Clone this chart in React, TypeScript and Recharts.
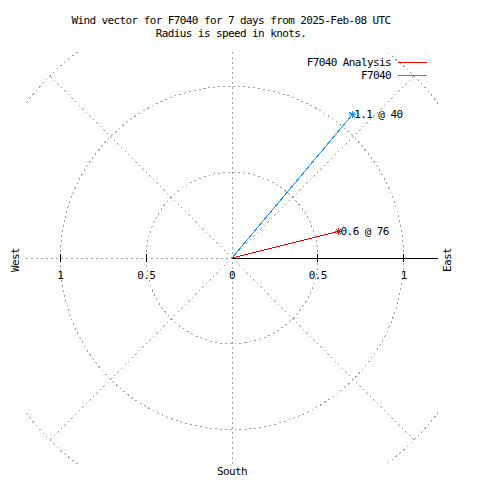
import {
  ComposedChart,
  ReferenceDot,
  ReferenceLine,
  Scatter,
  XAxis,
  YAxis,
} from "recharts";

const titleLines = [
  "Wind vector for F7040 for 7 days from 2025-Feb-08 UTC",
  "Radius is speed in knots.",
];
const seriesNames = ["F7040 Analysis", "F7040"];
const seriesColors = ["#ff0000", "#1e90ff"];
// speed in knots, direction in degrees clockwise from north
const speeds = [0.64, 1.09];
const directions = [76, 40];
const tickValues = [-1, -0.5, 0, 0.5, 1];
const ringRadii = [0.5, 1, 1.5];
const spokeAngles = [45, 135, 225, 315];

const LIMIT = 1.2;
const PLOT = 412;
const UNIT = PLOT / (2 * LIMIT);
const FONT = "'DejaVu Sans Mono', monospace";
const GRID = "#a0a0a0";
const DASH = "2 3";

const rad = (deg: number) => (deg * Math.PI) / 180;
const toXY = (r: number, deg: number) => ({
  x: r * Math.sin(rad(deg)),
  y: r * Math.cos(rad(deg)),
});

const vectors = seriesNames.map((name, i) => ({
  name,
  color: seriesColors[i],
  data: [
    { x: 0, y: 0 },
    {
      ...toXY(speeds[i], directions[i]),
      label: `${speeds[i].toFixed(1)} @ ${directions[i]}`,
    },
  ],
}));

const textStyle = {
  fontFamily: FONT,
  fontSize: 11,
  letterSpacing: -0.6,
  fill: "#000",
};

const Star = (props: any) => {
  const { cx, cy, payload, color } = props;
  if (!payload?.label) return <g />;
  return (
    <g>
      <path
        d={`M${cx - 3.5},${cy}h7M${cx},${cy - 3.5}v7M${cx - 2.5},${cy - 2.5}l5,5M${cx - 2.5},${cy + 2.5}l5,-5`}
        stroke={color}
        strokeWidth={1}
      />
      <text x={cx + 2} y={cy} dominantBaseline="central" style={textStyle}>
        {payload.label}
      </text>
    </g>
  );
};

const AxisTick = (props: any) => {
  const { cx, cy, value } = props;
  return (
    <g>
      {value !== 0 && (
        <line x1={cx} x2={cx} y1={cy - 4} y2={cy + 4} stroke="#000" />
      )}
      <text
        x={cx}
        y={cy + 17}
        textAnchor="middle"
        dominantBaseline="central"
        style={textStyle}
      >
        {Math.abs(value)}
      </text>
    </g>
  );
};

const label = (left: number, top: number, rotate = false): any => ({
  position: "absolute",
  left,
  top,
  transform: `translate(-50%, -50%)${rotate ? " rotate(-90deg)" : ""}`,
  fontFamily: FONT,
  fontSize: 11,
  letterSpacing: -0.6,
  lineHeight: "13px",
  whiteSpace: "nowrap",
  color: "#000",
});

export default function App() {
  return (
    <div style={{ position: "relative", width: 472, height: 472, background: "#fff" }}>
      <ComposedChart
        width={472}
        height={472}
        margin={{ top: 44, right: 42, bottom: 16, left: 18 }}
        style={{ shapeRendering: "crispEdges" }}
      >
        <XAxis type="number" dataKey="x" domain={[-LIMIT, LIMIT]} allowDataOverflow hide />
        <YAxis type="number" dataKey="y" domain={[-LIMIT, LIMIT]} allowDataOverflow hide />
        {ringRadii.map((r) => (
          <ReferenceDot
            key={`ring-${r}`}
            x={0}
            y={0}
            r={r * UNIT}
            fill="none"
            stroke={GRID}
            strokeDasharray={DASH}
            ifOverflow="hidden"
          />
        ))}
        {spokeAngles.map((a) => (
          <ReferenceLine
            key={`spoke-${a}`}
            segment={[{ x: 0, y: 0 }, toXY(ringRadii[ringRadii.length - 1], a)]}
            stroke={GRID}
            strokeDasharray={DASH}
          />
        ))}
        <ReferenceLine x={0} stroke={GRID} strokeDasharray={DASH} />
        <ReferenceLine
          segment={[{ x: -LIMIT, y: 0 }, { x: 0, y: 0 }]}
          stroke={GRID}
          strokeDasharray={DASH}
        />
        <ReferenceLine
          segment={[{ x: 0, y: 0 }, { x: LIMIT, y: 0 }]}
          stroke="#000"
        />
        {tickValues.map((v) => (
          <ReferenceDot
            key={`tick-${v}`}
            x={v}
            y={0}
            shape={(p: any) => <AxisTick {...p} value={v} />}
          />
        ))}
        {vectors.map((s) => (
          <Scatter
            key={s.name}
            name={s.name}
            data={s.data}
            fill={s.color}
            line={{ stroke: s.color, strokeWidth: 1 }}
            shape={(p: any) => <Star {...p} color={s.color} />}
            isAnimationActive={false}
          />
        ))}
      </ComposedChart>

      {titleLines.map((t, i) => (
        <div key={t} style={label(223, 12 + i * 13)}>
          {t}
        </div>
      ))}
      <div style={label(7, 252, true)}>West</div>
      <div style={label(439, 252, true)}>East</div>
      <div style={label(224, 463)}>South</div>

      {vectors.map((s, i) => (
        <div
          key={`legend-${s.name}`}
          style={{
            position: "absolute",
            right: 472 - 383,
            top: 54 + i * 13 - 6.5,
            fontFamily: FONT,
            fontSize: 11,
            letterSpacing: -0.6,
            lineHeight: "13px",
            whiteSpace: "nowrap",
          }}
        >
          {s.name}
        </div>
      ))}
      <svg
        width={472}
        height={472}
        style={{ position: "absolute", left: 0, top: 0, pointerEvents: "none" }}
      >
        {vectors.map((s, i) => (
          <rect
            key={`legend-line-${s.name}`}
            x={390}
            y={54 + i * 13}
            width={29}
            height={1}
            fill={s.color}
          />
        ))}
      </svg>
    </div>
  );
}
